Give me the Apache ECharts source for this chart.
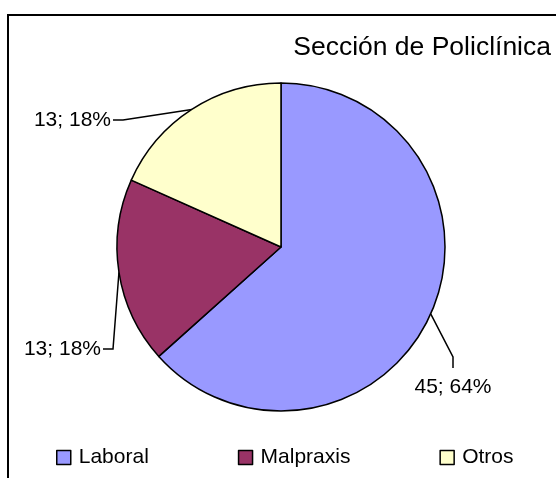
<!DOCTYPE html>
<html>
<head>
<meta charset="utf-8">
<script src="https://cdn.jsdelivr.net/npm/echarts@6/dist/echarts.min.js"></script>
<style>
html, body { margin: 0; padding: 0; background: #fff; }
#chart { width: 556px; height: 478px; }
</style>
</head>
<body>
<div id="chart"></div>
<script>
const categories = ['Laboral', 'Malpraxis', 'Otros'];
const values = [45, 13, 13];
const percents = [64, 18, 18];
const colors = ['#9999FF', '#993366', '#FFFFCC'];

// label anchor and leader line bends, in px
const labelPos = [
    { x: 453, y: 387, align: 'center', bend: [[453, 357], [453, 368]] },
    { x: 101, y: 349, align: 'right', bend: [[113, 349], [103, 349]] },
    { x: 111, y: 120, align: 'right', bend: [[123, 120], [113, 120]] }
];

const font = '"Liberation Sans", Arial, sans-serif';

let myChart = echarts.init(document.getElementById('chart'));
myChart.setOption({
    animation: false,
    graphic: [{
        type: 'rect',
        shape: { x: 8, y: 15, width: 600, height: 500 },
        style: { fill: 'none', stroke: '#000', lineWidth: 2 },
        silent: true
    }],
    title: {
        text: 'Sección de Policlínica',
        right: 5,
        top: 34,
        padding: 0,
        textStyle: { fontSize: 26.5, fontWeight: 'normal', color: '#000', fontFamily: font }
    },
    legend: {
        data: categories,
        left: 56,
        top: 447,
        padding: 0,
        icon: 'rect',
        itemWidth: 14,
        itemHeight: 14,
        itemGap: 89,
        itemStyle: { borderColor: '#000', borderWidth: 1.5 },
        textStyle: { fontSize: 21, color: '#000', fontFamily: font, padding: [0, 0, 0, 3] }
    },
    series: [{
        type: 'pie',
        center: [281, 247],
        radius: 164,
        startAngle: 90,
        clockwise: true,
        silent: true,
        itemStyle: { borderColor: '#000', borderWidth: 1.5 },
        label: {
            show: true,
            color: '#000',
            fontSize: 21,
            fontFamily: font,
            overflow: 'none',
            width: 120,
            formatter: function (p) {
                return values[p.dataIndex] + '; ' + percents[p.dataIndex] + '%';
            }
        },
        labelLine: { show: true, lineStyle: { color: '#000', width: 1.5 } },
        labelLayout: function (p) {
            const l = labelPos[p.dataIndex];
            const pts = p.labelLinePoints;
            return {
                x: l.x,
                y: l.y,
                align: l.align,
                verticalAlign: 'middle',
                labelLinePoints: [pts[0], l.bend[0], l.bend[1]]
            };
        },
        data: categories.map((name, i) => ({
            name: name,
            value: values[i],
            itemStyle: { color: colors[i] }
        }))
    }]
});
</script>
</body>
</html>
